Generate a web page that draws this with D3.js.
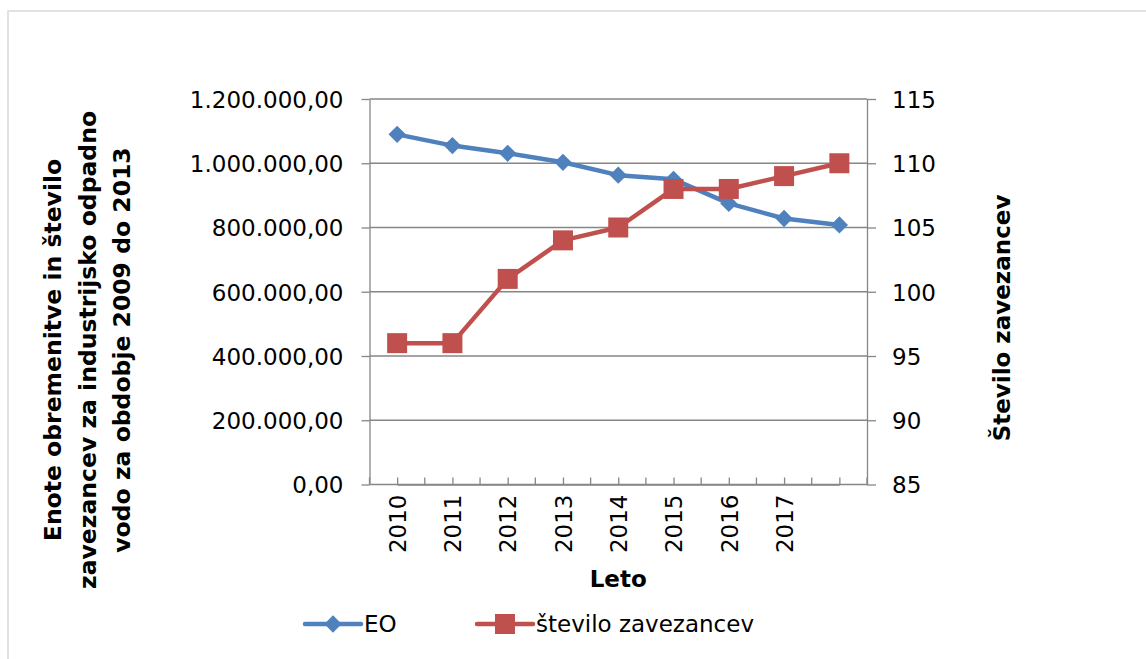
<!DOCTYPE html>
<html>
<head>
<meta charset="utf-8">
<script src="https://cdn.jsdelivr.net/npm/d3@7"></script>
<style>
  html, body { margin: 0; padding: 0; background: #fff; }
  svg { display: block; font-family: "DejaVu Sans", Verdana, sans-serif; }
</style>
</head>
<body>
<svg id="chart" width="1146" height="659"></svg>
<script>
// ---- data ----
const categories = ["2010", "2011", "2012", "2013", "2014", "2015", "2016", "2017", ""];
const eoValues = [1090000, 1055000, 1031000, 1003000, 963000, 950000, 875000, 828000, 808000];
const zavezanciValues = [96, 96, 101, 104, 105, 108, 108, 109, 110];
const leftTicks = [0, 200000, 400000, 600000, 800000, 1000000, 1200000];
const rightTicks = [85, 90, 95, 100, 105, 110, 115];
const seriesNames = ["EO", "število zavezancev"];
const leftTitleLines = ["Enote obremenitve in število", "zavezancev za industrijsko odpadno", "vodo za obdobje 2009 do 2013"];
const rightTitle = "Število zavezancev";
const xTitle = "Leto";

// ---- layout ----
const W = 1146, H = 659;
const plot = { left: 369.5, right: 867, top: 99, bottom: 484.5 };
const blue = "#4F81BD", red = "#C0504D", gridCol = "#868686";
const fs = 23;
const ff = '"DejaVu Sans", Verdana, sans-serif';

const svg = d3.select("#chart");

// outer frame
svg.append("rect").attr("x", 8).attr("y", 11).attr("width", W).attr("height", H)
  .attr("fill", "none").attr("stroke", "#d9d9d9").attr("stroke-width", 1.5);

const idx = categories.map((d, i) => i);
const x = d3.scaleBand().domain(idx).range([plot.left, plot.right]).paddingInner(0).paddingOuter(0);
const cx = i => x(i) + x.bandwidth() / 2;
const yL = d3.scaleLinear().domain([0, 1200000]).range([plot.bottom, plot.top]);
const yR = d3.scaleLinear().domain([85, 115]).range([plot.bottom, plot.top]);

const loc = d3.formatLocale({ decimal: ",", thousands: ".", grouping: [3], currency: ["", "€"] });
const fmtL = loc.format(",.2f");

// gridlines
svg.append("g").selectAll("line").data(leftTicks).join("line")
  .attr("x1", plot.left).attr("x2", plot.right)
  .attr("y1", d => yL(d)).attr("y2", d => yL(d))
  .attr("stroke", gridCol).attr("stroke-width", 1.3);

// left axis
const gL = svg.append("g").attr("transform", `translate(${plot.left},0)`)
  .call(d3.axisLeft(yL).tickValues(leftTicks).tickFormat(fmtL).tickSizeInner(8).tickSizeOuter(0).tickPadding(18));
// right axis
const gR = svg.append("g").attr("transform", `translate(${plot.right},0)`)
  .call(d3.axisRight(yR).tickValues(rightTicks).tickFormat(d3.format("d")).tickSizeInner(9).tickSizeOuter(0).tickPadding(16));
// bottom axis (category labels at centers, ticks pointing into the plot)
const gB = svg.append("g").attr("transform", `translate(0,${plot.bottom})`)
  .call(d3.axisBottom(d3.scalePoint().domain(idx).range([cx(0), cx(idx.length - 1)]))
    .tickFormat(i => categories[i]).tickSizeInner(-7).tickSizeOuter(0).tickPadding(0));
// boundary ticks between categories
svg.append("g").selectAll("line").data(d3.range(idx.length + 1)).join("line")
  .attr("x1", i => plot.left + i * x.step()).attr("x2", i => plot.left + i * x.step())
  .attr("y1", plot.bottom).attr("y2", plot.bottom - 7)
  .attr("stroke", gridCol).attr("stroke-width", 1.3);

[gL, gR, gB].forEach(g => {
  g.selectAll(".domain").attr("stroke", gridCol).attr("stroke-width", 1.3);
  g.selectAll(".tick line").attr("stroke", gridCol).attr("stroke-width", 1.3);
  g.selectAll(".tick text").attr("fill", "#000").style("font-size", fs + "px").style("font-family", ff);
});
gL.selectAll(".tick text").attr("dy", "0.36em");
gR.selectAll(".tick text").attr("dy", "0.36em");
gB.selectAll(".tick text")
  .attr("transform", "rotate(-90)")
  .attr("text-anchor", "end")
  .attr("x", -10).attr("y", 0).attr("dy", "0.36em");

// lines
const lineL = d3.line().x((d, i) => cx(i)).y(d => yL(d));
const lineR = d3.line().x((d, i) => cx(i)).y(d => yR(d));
svg.append("path").datum(eoValues).attr("d", lineL)
  .attr("fill", "none").attr("stroke", blue).attr("stroke-width", 4.5).attr("stroke-linejoin", "round");
svg.append("path").datum(zavezanciValues).attr("d", lineR)
  .attr("fill", "none").attr("stroke", red).attr("stroke-width", 4.5).attr("stroke-linejoin", "round");

// markers
const diamond = d3.symbol().type(d3.symbolDiamond2).size(190);
svg.append("g").selectAll("path").data(eoValues).join("path")
  .attr("d", diamond)
  .attr("transform", (d, i) => `translate(${cx(i)},${yL(d)})`)
  .attr("fill", blue);
const sq = 20;
svg.append("g").selectAll("rect").data(zavezanciValues).join("rect")
  .attr("x", (d, i) => cx(i) - sq / 2).attr("y", d => yR(d) - sq / 2)
  .attr("width", sq).attr("height", sq).attr("fill", red);

// axis titles
const lt = svg.append("text")
  .attr("transform", "translate(0,350) rotate(-90)")
  .attr("text-anchor", "middle")
  .style("font-size", "23.5px").style("font-weight", "bold").style("font-family", ff);
leftTitleLines.forEach((t, i) => {
  lt.append("tspan").attr("x", 0).attr("y", 61 + i * 34.5).text(t);
});
svg.append("text")
  .attr("transform", "translate(1010,318) rotate(-90)")
  .attr("text-anchor", "middle")
  .style("font-size", fs + "px").style("font-weight", "bold").style("font-family", ff)
  .text(rightTitle);
svg.append("text")
  .attr("x", (plot.left + plot.right) / 2).attr("y", 587)
  .attr("text-anchor", "middle")
  .style("font-size", fs + "px").style("font-weight", "bold").style("font-family", ff)
  .text(xTitle);

// legend
const legendY = 624;
const legendItems = [
  { name: seriesNames[0], color: blue, x0: 305, type: "diamond" },
  { name: seriesNames[1], color: red, x0: 477, type: "square" }
];
const lg = svg.append("g");
legendItems.forEach(it => {
  lg.append("line").attr("x1", it.x0).attr("x2", it.x0 + 56)
    .attr("y1", legendY).attr("y2", legendY)
    .attr("stroke", it.color).attr("stroke-width", 4.5).attr("stroke-linecap", "round");
  if (it.type === "diamond") {
    lg.append("path").attr("d", diamond).attr("transform", `translate(${it.x0 + 28},${legendY})`).attr("fill", it.color);
  } else {
    lg.append("rect").attr("x", it.x0 + 28 - sq / 2).attr("y", legendY - sq / 2)
      .attr("width", sq).attr("height", sq).attr("fill", it.color);
  }
  lg.append("text").attr("x", it.x0 + 59).attr("y", legendY).attr("dy", "0.36em")
    .style("font-size", fs + "px").style("font-family", ff).text(it.name);
});
</script>
</body>
</html>
